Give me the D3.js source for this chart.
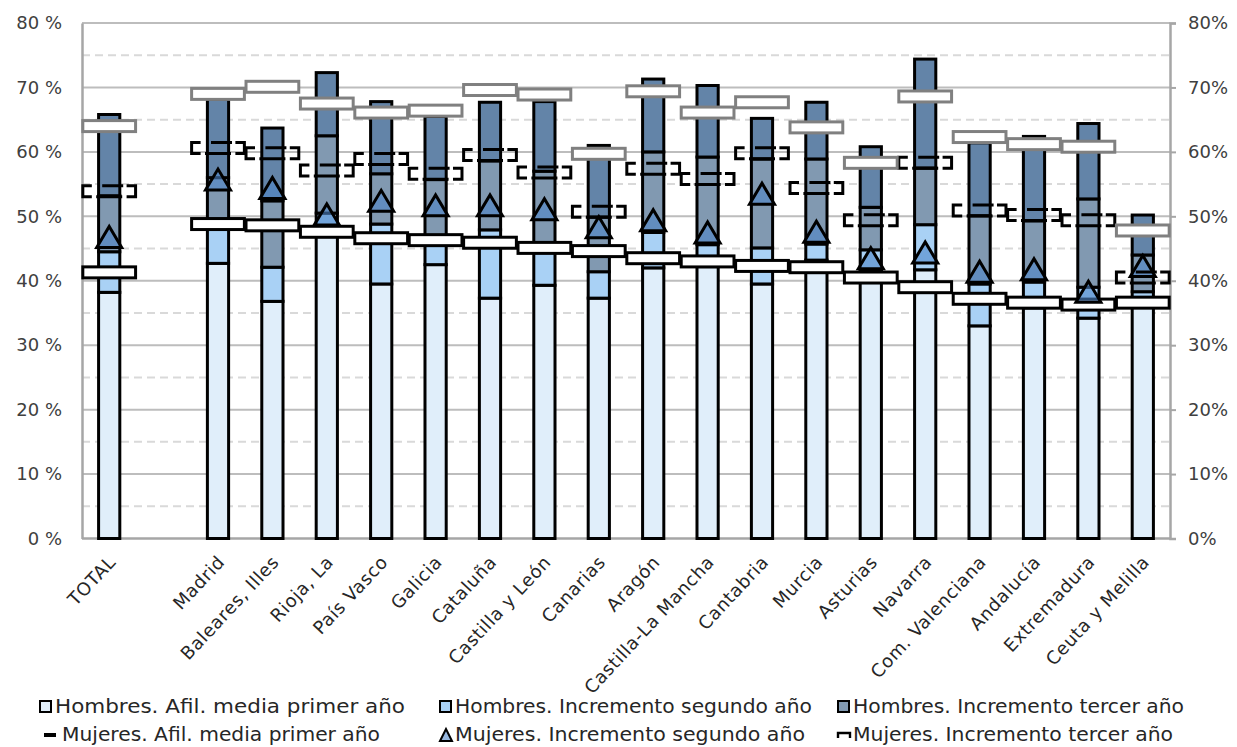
<!DOCTYPE html>
<html><head><meta charset="utf-8">
<script src="https://cdn.jsdelivr.net/npm/d3@7"></script>
<style>body{margin:0;background:#fff}svg{display:block}</style>
</head><body><svg id="c" width="1237" height="747"></svg>
<script>
// ---------- data ----------
const categories = ["TOTAL","","Madrid","Baleares, Illes","Rioja, La","País Vasco","Galicia","Cataluña","Castilla y León","Canarias","Aragón","Castilla-La Mancha","Cantabria","Murcia","Asturias","Navarra","Com. Valenciana","Andalucía","Extremadura","Ceuta y Melilla"];
// Hombres (stacked increments, %)
const hombresPrimer   = [38.2,null,42.7,36.8,48.3,39.5,42.5,37.3,39.3,37.3,42.0,42.2,39.5,43.2,41.7,41.7,33.0,35.8,34.2,37.0];
const hombresSegundo  = [ 6.3,null, 5.5, 5.3, 2.2, 9.3, 4.5,10.6, 6.3, 4.1, 5.5, 3.4, 5.6, 2.5, 3.1, 7.0, 6.5, 4.0, 4.8, 1.3];
const hombresTercer   = [ 8.7,null, 7.8,10.3,12.0, 7.8, 8.7,10.7,11.4, 8.5,12.5,13.6,13.8,13.2, 6.6, 8.8,10.6, 9.5,13.7, 5.7];
const hombresCuarto   = [12.6,null,12.2,11.3, 9.8,11.2, 9.8, 9.1,10.8,11.1,11.3,11.1, 6.3, 8.8, 9.4,16.9,11.3,13.1,11.7, 6.2];
// Mujeres (accumulated levels, %)
const mujeresPrimer   = [41.3,null,48.8,48.6,47.6,46.6,46.3,45.9,45.1,44.6,43.5,43.0,42.3,42.1,40.5,39.0,37.2,36.6,36.3,36.6];
const mujeresSegundo  = [46.8,null,55.7,54.4,50.3,52.4,51.7,51.7,51.1,48.3,49.4,47.5,53.5,47.6,43.5,44.4,41.4,41.8,38.3,42.3];
const mujeresTercer   = [53.9,null,60.6,59.8,57.1,58.9,56.6,59.5,56.8,50.7,57.4,55.8,59.8,54.4,49.4,58.3,50.9,50.2,49.4,40.5];
const mujeresCuarto   = [64.0,null,69.0,70.1,67.5,66.1,66.4,69.6,68.9,59.7,69.4,66.1,67.7,63.8,58.3,68.6,62.3,61.2,60.8,47.8];
const leftTicks  = [0,10,20,30,40,50,60,70,80];
const minorTicks = [5,15,25,35,45,55,65,75];
const legendLabels = ["Hombres. Afil. media primer año","Hombres. Incremento segundo año","Hombres. Incremento tercer año",
                      "Mujeres. Afil. media primer año","Mujeres. Incremento segundo año","Mujeres. Incremento tercer año"];

// ---------- setup ----------
const svg = d3.select("#c");
const L = 82, R = 1170, T = 23, B = 538.5;
const x = d3.scaleBand().domain(categories).range([L, R]);
const y = d3.scaleLinear().domain([0, 80]).range([B, T]);
const barW = x.bandwidth() * 0.39;
const colors = {h1:"#e0eefa", h2:"#a9d1f5", h3:"#8199b1", h4:"#6384a8"};
const triFill = "rgba(78,134,200,0.6)";
const font = "'DejaVu Sans', sans-serif";

// grid
svg.append("g").selectAll("line").data(minorTicks).join("line")
  .attr("x1", L).attr("x2", R).attr("y1", d => y(d)).attr("y2", d => y(d))
  .attr("stroke", "#d9d9d9").attr("stroke-width", 2).attr("stroke-dasharray", "8,5");
svg.append("g").selectAll("line").data(leftTicks.slice(1)).join("line")
  .attr("x1", L).attr("x2", R).attr("y1", d => y(d)).attr("y2", d => y(d))
  .attr("stroke", "#bdbdbd").attr("stroke-width", 2);

// axes
const ax = svg.append("g").attr("transform", `translate(${L},0)`)
  .call(d3.axisLeft(y).tickValues(leftTicks).tickFormat(d => d + " %").tickSize(0).tickPadding(20));
const ax2 = svg.append("g").attr("transform", `translate(${R},0)`)
  .call(d3.axisRight(y).tickValues(leftTicks).tickFormat(d => d + "%").tickSize(6).tickPadding(12));
[ax, ax2].forEach(a => {
  a.select(".domain").attr("stroke", "#a6a6a6").attr("stroke-width", 2.5);
  a.selectAll(".tick line").attr("stroke", "#a6a6a6").attr("stroke-width", 2);
  a.selectAll("text").attr("font-family", font).attr("font-size", 18).attr("fill", "#404040");
});
svg.append("line").attr("x1", L).attr("x2", R).attr("y1", y(0)).attr("y2", y(0))
  .attr("stroke", "#a6a6a6").attr("stroke-width", 2.5);

// x labels
svg.append("g").selectAll("text").data(categories.filter(c => c !== "")).join("text")
  .attr("transform", d => `translate(${x(d) + x.bandwidth()/2 + 4},${B + 21}) rotate(-47)`)
  .attr("text-anchor", "end").attr("dominant-baseline", "middle")
  .attr("font-family", font).attr("font-size", 18).attr("letter-spacing", 0.6)
  .attr("fill", "#262626").text(d => d);

// ---------- men stacked bars ----------
const rows = categories.map((c, i) => ({cat: c, h1: hombresPrimer[i], h2: hombresSegundo[i], h3: hombresTercer[i], h4: hombresCuarto[i]}))
  .filter(r => r.h1 != null);
const stack = d3.stack().keys(["h1","h2","h3","h4"])(rows);
svg.append("g").selectAll("g").data(stack).join("g").attr("fill", d => colors[d.key])
  .selectAll("rect").data(d => d).join("rect")
  .attr("x", d => x(d.data.cat) + (x.bandwidth() - barW)/2)
  .attr("width", barW)
  .attr("y", d => y(d[1])).attr("height", d => y(d[0]) - y(d[1]))
  .attr("stroke", "#000").attr("stroke-width", 3);

// ---------- women markers ----------
const idx = categories.map((c, i) => i).filter(i => mujeresPrimer[i] != null);
const cx = i => x(categories[i]) + x.bandwidth()/2;
const mw = x.bandwidth() * 0.97, mh = 11;

// first year: white dash markers with black outline
svg.append("g").selectAll("rect").data(idx).join("rect")
  .attr("x", i => cx(i) - mw/2).attr("y", i => y(mujeresPrimer[i]) - mh/2)
  .attr("width", mw).attr("height", mh)
  .attr("fill", "#fff").attr("stroke", "#000").attr("stroke-width", 3);

// second year: triangles
const tw = 25, th = 21;
svg.append("g").selectAll("path").data(idx).join("path")
  .attr("d", i => { const c = cx(i), v = y(mujeresSegundo[i]);
    return `M${c - tw/2},${v + th/2}L${c},${v - th/2}L${c + tw/2},${v + th/2}Z`; })
  .attr("fill", triFill).attr("stroke", "#000").attr("stroke-width", 3)
  .attr("stroke-linejoin", "miter");

// third year: dashed dash markers
svg.append("g").selectAll("path").data(idx).join("path")
  .attr("d", i => { const c = cx(i), v = y(mujeresTercer[i]);
    const x0 = c - mw/2, x1 = c + mw/2, y0 = v - mh/2, y1 = v + mh/2;
    return `M${x0 + 9},${y0}H${x0}V${y1}H${x0 + 9}` +
           `M${x1 - 9},${y0}H${x1}V${y1}H${x1 - 9}` +
           `M${c - 7},${y0}H${c + 14}` +
           `M${c - 13},${y1}H${c + 13}`; })
  .attr("fill", "none").attr("stroke", "#000").attr("stroke-width", 3);

// fourth level: white markers with grey outline
svg.append("g").selectAll("rect").data(idx).join("rect")
  .attr("x", i => cx(i) - mw/2).attr("y", i => y(mujeresCuarto[i]) - mh/2)
  .attr("width", mw).attr("height", mh)
  .attr("fill", "#fff").attr("stroke", "#808080").attr("stroke-width", 3);

// ---------- legend ----------
const legX = [40, 440, 838], legY = [707, 735];
const legW = [350, 357, 331, 318, 350, 320];
const lg = svg.append("g").attr("font-family", font).attr("font-size", 19).attr("fill", "#262626");
legendLabels.forEach((lab, k) => {
  const col = k % 3, row = Math.floor(k / 3);
  const gx = legX[col], gy = legY[row];
  const g = lg.append("g");
  let tx = gx + 15;
  if (row === 0) {
    g.append("rect").attr("x", gx).attr("y", gy - 6).attr("width", 11).attr("height", 11)
      .attr("fill", colors["h" + (col + 1)]).attr("stroke", "#000").attr("stroke-width", 2);
  } else if (col === 0) {
    g.append("rect").attr("x", gx + 4).attr("y", gy - 2).attr("width", 12).attr("height", 4).attr("fill", "#000");
    tx = gx + 22;
  } else if (col === 1) {
    g.append("path").attr("d", `M${gx},${gy + 6}L${gx + 6},${gy - 6}L${gx + 12},${gy + 6}Z`)
      .attr("fill", triFill).attr("stroke", "#000").attr("stroke-width", 2);
  } else {
    g.append("path").attr("d", `M${gx},${gy + 3}V${gy - 2}H${gx + 12}V${gy + 3}`)
      .attr("fill", "none").attr("stroke", "#000").attr("stroke-width", 2.4);
  }
  g.append("text").attr("x", tx).attr("y", gy).attr("dominant-baseline", "middle")
    .attr("textLength", legW[k]).attr("lengthAdjust", "spacingAndGlyphs").text(lab);
});
</script></body></html>
